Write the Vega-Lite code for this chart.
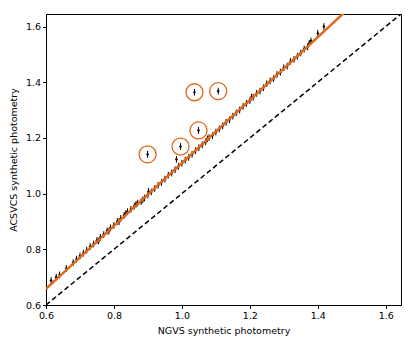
{
  "$schema": "https://vega.github.io/schema/vega-lite/v6.json",
  "width": 355,
  "height": 291,
  "autosize": "none",
  "padding": {"left": 46, "top": 14, "right": 14, "bottom": 41},
  "config": {
    "font": "DejaVu Sans",
    "view": {"stroke": "#000000", "strokeWidth": 1},
    "axis": {"grid": false, "domainColor": "#000000", "tickColor": "#000000", "tickSize": 3.5, "labelFontSize": 9.5, "titleFontSize": 9.5, "labelColor": "#000000", "titleColor": "#000000", "titleFontWeight": "normal", "labelPadding": 2, "labelFlush": false}
  },
  "datasets": {
    "pts": [
      {"ngvs": 0.615, "acs": 0.688}, {"ngvs": 0.63, "acs": 0.700}, {"ngvs": 0.64, "acs": 0.708},
      {"ngvs": 0.66, "acs": 0.731}, {"ngvs": 0.68, "acs": 0.752}, {"ngvs": 0.69, "acs": 0.765},
      {"ngvs": 0.70, "acs": 0.776}, {"ngvs": 0.71, "acs": 0.786}, {"ngvs": 0.72, "acs": 0.797},
      {"ngvs": 0.73, "acs": 0.810}, {"ngvs": 0.74, "acs": 0.819}, {"ngvs": 0.75, "acs": 0.832},
      {"ngvs": 0.755, "acs": 0.830}, {"ngvs": 0.76, "acs": 0.843}, {"ngvs": 0.77, "acs": 0.853},
      {"ngvs": 0.78, "acs": 0.866}, {"ngvs": 0.785, "acs": 0.865}, {"ngvs": 0.79, "acs": 0.877},
      {"ngvs": 0.80, "acs": 0.886}, {"ngvs": 0.81, "acs": 0.900}, {"ngvs": 0.815, "acs": 0.899},
      {"ngvs": 0.82, "acs": 0.911}, {"ngvs": 0.83, "acs": 0.922}, {"ngvs": 0.835, "acs": 0.929},
      {"ngvs": 0.84, "acs": 0.935}, {"ngvs": 0.85, "acs": 0.944}, {"ngvs": 0.86, "acs": 0.955},
      {"ngvs": 0.865, "acs": 0.962}, {"ngvs": 0.87, "acs": 0.966}, {"ngvs": 0.88, "acs": 0.971},
      {"ngvs": 0.885, "acs": 0.978}, {"ngvs": 0.89, "acs": 0.984}, {"ngvs": 0.90, "acs": 0.995},
      {"ngvs": 0.902, "acs": 1.008}, {"ngvs": 0.91, "acs": 1.006}, {"ngvs": 0.92, "acs": 1.018},
      {"ngvs": 0.93, "acs": 1.030}, {"ngvs": 0.94, "acs": 1.040}, {"ngvs": 0.95, "acs": 1.052},
      {"ngvs": 0.96, "acs": 1.066}, {"ngvs": 0.97, "acs": 1.074}, {"ngvs": 0.984, "acs": 1.123},
      {"ngvs": 0.98, "acs": 1.086}, {"ngvs": 0.99, "acs": 1.098}, {"ngvs": 1.00, "acs": 1.109},
      {"ngvs": 1.01, "acs": 1.120}, {"ngvs": 1.02, "acs": 1.130}, {"ngvs": 1.03, "acs": 1.141},
      {"ngvs": 1.04, "acs": 1.154}, {"ngvs": 1.05, "acs": 1.165}, {"ngvs": 1.06, "acs": 1.175},
      {"ngvs": 1.07, "acs": 1.186}, {"ngvs": 1.075, "acs": 1.197}, {"ngvs": 1.08, "acs": 1.201},
      {"ngvs": 1.09, "acs": 1.208}, {"ngvs": 1.10, "acs": 1.221}, {"ngvs": 1.11, "acs": 1.232},
      {"ngvs": 1.12, "acs": 1.243}, {"ngvs": 1.13, "acs": 1.256}, {"ngvs": 1.14, "acs": 1.265},
      {"ngvs": 1.15, "acs": 1.278}, {"ngvs": 1.16, "acs": 1.290}, {"ngvs": 1.17, "acs": 1.300},
      {"ngvs": 1.18, "acs": 1.313}, {"ngvs": 1.19, "acs": 1.324}, {"ngvs": 1.20, "acs": 1.334},
      {"ngvs": 1.205, "acs": 1.347}, {"ngvs": 1.21, "acs": 1.346}, {"ngvs": 1.22, "acs": 1.360},
      {"ngvs": 1.23, "acs": 1.368}, {"ngvs": 1.24, "acs": 1.380}, {"ngvs": 1.25, "acs": 1.395},
      {"ngvs": 1.26, "acs": 1.405}, {"ngvs": 1.27, "acs": 1.413}, {"ngvs": 1.28, "acs": 1.428},
      {"ngvs": 1.29, "acs": 1.436}, {"ngvs": 1.30, "acs": 1.452}, {"ngvs": 1.31, "acs": 1.458},
      {"ngvs": 1.32, "acs": 1.475}, {"ngvs": 1.33, "acs": 1.482}, {"ngvs": 1.34, "acs": 1.493},
      {"ngvs": 1.35, "acs": 1.505}, {"ngvs": 1.36, "acs": 1.519}, {"ngvs": 1.37, "acs": 1.527},
      {"ngvs": 1.375, "acs": 1.540}, {"ngvs": 1.38, "acs": 1.548}, {"ngvs": 1.40, "acs": 1.576},
      {"ngvs": 1.418, "acs": 1.600},
      {"ngvs": 0.899, "acs": 1.141}, {"ngvs": 0.996, "acs": 1.169}, {"ngvs": 1.037, "acs": 1.364},
      {"ngvs": 1.049, "acs": 1.227}, {"ngvs": 1.107, "acs": 1.368}
    ],
    "outliers": [
      {"ngvs": 0.899, "acs": 1.141}, {"ngvs": 0.996, "acs": 1.169}, {"ngvs": 1.037, "acs": 1.364},
      {"ngvs": 1.049, "acs": 1.227}, {"ngvs": 1.107, "acs": 1.368}
    ],
    "fit": [{"ngvs": 0.6, "acs": 0.658}, {"ngvs": 1.5, "acs": 1.675}],
    "one": [{"ngvs": 0.6, "acs": 0.6}, {"ngvs": 1.645, "acs": 1.645}]
  },
  "layer": [
    {
      "data": {"name": "one"},
      "mark": {"type": "line", "color": "#000000", "strokeDash": [5, 3], "strokeWidth": 1.5, "clip": true},
      "encoding": {
        "x": {"field": "ngvs", "type": "quantitative", "scale": {"domain": [0.6, 1.645], "nice": false, "zero": false},
              "axis": {"values": [0.6, 0.8, 1.0, 1.2, 1.4, 1.6], "format": ".1f", "title": "NGVS synthetic photometry", "titlePadding": 5}},
        "y": {"field": "acs", "type": "quantitative", "scale": {"domain": [0.6, 1.645], "nice": false, "zero": false},
              "axis": {"values": [0.6, 0.8, 1.0, 1.2, 1.4, 1.6], "format": ".1f", "title": "ACSVCS synthetic photometry", "titlePadding": 7}}
      }
    },
    {
      "data": {"name": "pts"},
      "transform": [{"calculate": "datum.acs - 0.012", "as": "lo"}, {"calculate": "datum.acs + 0.012", "as": "hi"}],
      "mark": {"type": "rule", "color": "#000000", "strokeWidth": 1, "clip": true},
      "encoding": {
        "x": {"field": "ngvs", "type": "quantitative"},
        "y": {"field": "lo", "type": "quantitative"},
        "y2": {"field": "hi"}
      }
    },
    {
      "data": {"name": "pts"},
      "mark": {"type": "point", "filled": true, "shape": "diamond", "color": "#000000", "size": 10, "opacity": 1, "clip": true},
      "encoding": {
        "x": {"field": "ngvs", "type": "quantitative"},
        "y": {"field": "acs", "type": "quantitative"}
      }
    },
    {
      "data": {"name": "fit"},
      "mark": {"type": "line", "color": "#e0681a", "strokeWidth": 2.5, "clip": true},
      "encoding": {
        "x": {"field": "ngvs", "type": "quantitative"},
        "y": {"field": "acs", "type": "quantitative"}
      }
    },
    {
      "data": {"name": "outliers"},
      "mark": {"type": "point", "shape": "circle", "filled": false, "color": "#e0681a", "strokeWidth": 1.3, "size": 290, "opacity": 1, "clip": true},
      "encoding": {
        "x": {"field": "ngvs", "type": "quantitative"},
        "y": {"field": "acs", "type": "quantitative"}
      }
    }
  ]
}
